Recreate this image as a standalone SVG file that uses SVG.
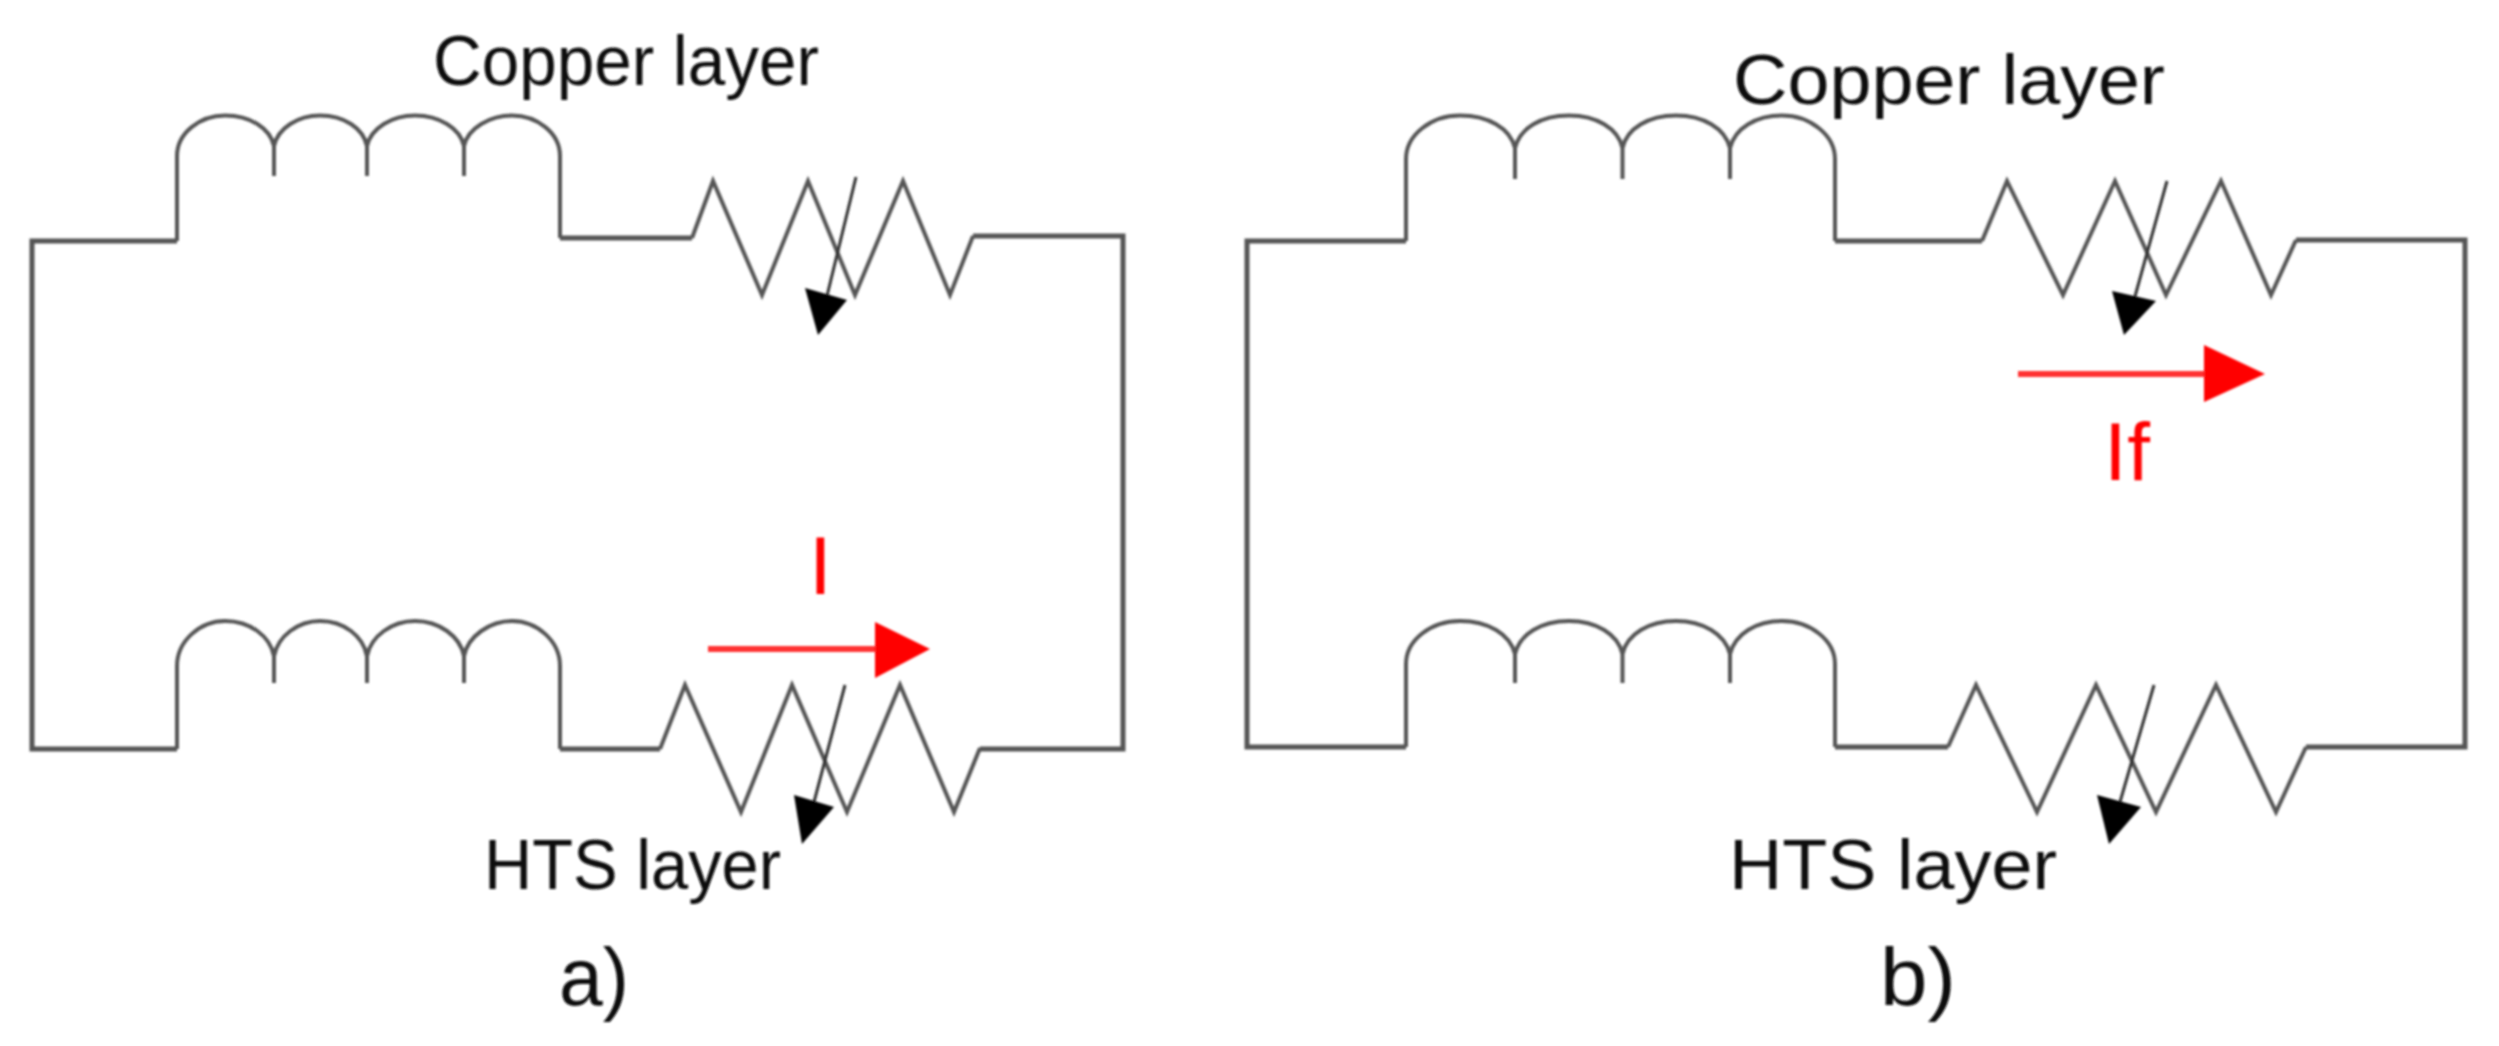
<svg xmlns="http://www.w3.org/2000/svg" width="2499" height="1046" viewBox="0 0 2499 1046">
<style>
.w{fill:none;stroke:#555;stroke-width:4;stroke-linejoin:miter}
.b{stroke-width:5}
.t{font-family:"Liberation Sans",Arial,sans-serif;font-size:70px;fill:#111}
.s{font-size:82px}
.r{font-size:82px;fill:#f00}
.k{fill:none;stroke:#333;stroke-width:3}
.h{fill:#000}
.rl{stroke:#f33;stroke-width:6;fill:none}
.rh{fill:#f00}
</style>
<defs>
<filter id="soft" x="-2%" y="-2%" width="104%" height="104%"><feGaussianBlur stdDeviation="0.8"/></filter>
</defs>
<rect width="2499" height="1046" fill="#fff"/>
<g filter="url(#soft)">
<g id="connectors">
<path class="w b" d="M177,241H32V749H177"/>
<path class="w b" d="M560,238H692"/>
<path class="w b" d="M973,236H1123V749H980"/>
<path class="w b" d="M560,749H660"/>
<path class="w b" d="M1406,241H1247V747H1406"/>
<path class="w b" d="M1835,241H1982"/>
<path class="w b" d="M2296,240H2465V747H2306"/>
<path class="w b" d="M1835,747H1948"/>
</g>
<g id="inductor-a-copper">
<path class="w" d="M177,241V156C177,133 200,115.500 225,115.500C250,115.500 270,128 274,146V176M274,146C278,128 298,115.500 320,115.500C344,115.500 363,128 367,146V176M367,146C371,128 392,115.500 415,115.500C439,115.500 460,128 464,146V176M464,146C468,128 490,115.500 512,115.500C537,115.500 560,133 560,156V238"/>
</g>
<g id="resistor-a-copper">
<path class="w" d="M692,238L713,181L762,295L808,181L855,295L903,181L950,295L973,236"/>
<path class="k" d="M856,177L826,300"/>
<polygon class="h" points="805,288 847,300 818,335"/>
</g>
<g id="inductor-a-hts">
<path class="w" d="M177,749V666C177,641 200,621 225,621C250,621 270,636 274,656V683M274,656C278,636 298,621 320,621C344,621 363,636 367,656V683M367,656C371,636 392,621 415,621C439,621 460,636 464,656V683M464,656C468,636 490,621 512,621C537,621 560,641 560,666V749"/>
</g>
<g id="resistor-a-hts">
<path class="w" d="M660,749L685,685L741,812L792,685L847,812L900,685L954,812L980,748"/>
<path class="k" d="M845,685L814,802"/>
<polygon class="h" points="794,795 834,807 802,844"/>
</g>
<g id="current-a">
<path class="rl" d="M708,649H876"/>
<polygon class="rh" points="875,622 930,649 875,678"/>
<text class="t r" x="809" y="594">I</text>
</g>
<g id="inductor-b-copper">
<path class="w" d="M1406,241V159C1406,135 1431,115.500 1460,115.500C1488,115.500 1510,128 1515,148V179M1515,148C1520,128 1541,115.500 1569,115.500C1596,115.500 1618,128 1622.500,148V179M1622.500,148C1627,128 1649,115.500 1676,115.500C1703,115.500 1725,128 1730,148V179M1730,148C1735,128 1756,115.500 1782,115.500C1810,115.500 1835,135 1835,159V241"/>
</g>
<g id="resistor-b-copper">
<path class="w" d="M1982,241L2007,181L2063,295L2115,181L2166,295L2221,181L2271,295L2296,240"/>
<path class="k" d="M2167,181L2134,300"/>
<polygon class="h" points="2112,291 2156,301 2124,335"/>
</g>
<g id="inductor-b-hts">
<path class="w" d="M1406,747V664C1406,640 1431,621 1460,621C1488,621 1510,634 1515,654V683M1515,654C1520,634 1541,621 1569,621C1596,621 1618,634 1622.500,654V683M1622.500,654C1627,634 1649,621 1676,621C1703,621 1725,634 1730,654V683M1730,654C1735,634 1756,621 1782,621C1810,621 1835,640 1835,664V747"/>
</g>
<g id="resistor-b-hts">
<path class="w" d="M1948,747L1976,685L2037,812L2096,685L2156,812L2216,685L2276,812L2306,747"/>
<path class="k" d="M2154,685L2120,802"/>
<polygon class="h" points="2097,795 2141,807 2109,844"/>
</g>
<g id="current-b">
<path class="rl" d="M2018,374H2206"/>
<polygon class="rh" points="2204,345 2265,374 2204,402"/>
<text class="t r" x="2104" y="480" textLength="46" lengthAdjust="spacing">If</text>
</g>
<g id="labels">
<text class="t" x="433" y="85" textLength="386" lengthAdjust="spacingAndGlyphs">Copper layer</text>
<text class="t" x="484" y="889" textLength="297" lengthAdjust="spacingAndGlyphs">HTS layer</text>
<text class="t s" x="559" y="1005" textLength="70" lengthAdjust="spacingAndGlyphs">a)</text>
<text class="t" x="1733" y="104" textLength="432" lengthAdjust="spacingAndGlyphs">Copper layer</text>
<text class="t" x="1729" y="889" textLength="328" lengthAdjust="spacingAndGlyphs">HTS layer</text>
<text class="t s" x="1880" y="1005" textLength="76" lengthAdjust="spacingAndGlyphs">b)</text>
</g>
</g>
</svg>
